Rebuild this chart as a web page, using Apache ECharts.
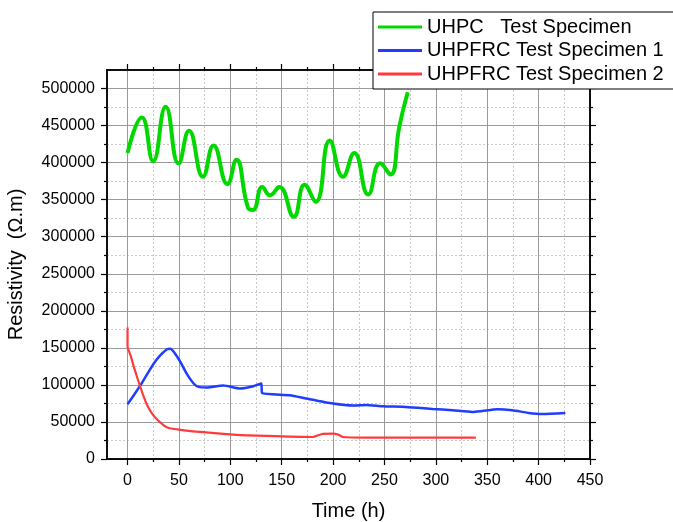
<!DOCTYPE html>
<html>
<head>
<meta charset="utf-8">
<script src="https://cdn.jsdelivr.net/npm/echarts@6/dist/echarts.min.js"></script>
<style>
html,body{margin:0;padding:0;background:#fff;}
#chart{width:673px;height:522px;}
</style>
</head>
<body>
<div id="chart"></div>
<script>
// ---- data ----
var seriesNames = ['UHPC   Test Specimen', 'UHPFRC Test Specimen 1', 'UHPFRC Test Specimen 2'];

var uhpcTime = [0, 13.9, 24.9, 37.1, 49.7, 59.8, 73.4, 83.6, 97.2, 105.9, 117, 122, 131.1, 138.6, 147.7, 161.8, 172.2, 183.1, 196.7, 209.6, 220.6, 234.2, 245.8, 255.8, 264.5, 272.6];
var uhpcRes  = [413000, 461000, 402000, 475500, 399000, 443000, 381000, 423000, 371000, 404000, 340000, 336000, 367000, 356000, 367000, 327000, 370000, 347000, 430000, 381000, 413000, 357000, 399000, 384000, 449000, 495000];

var frc1Time = [0, 6.1, 12.6, 19.1, 25.5, 32.0, 38.4, 41.7, 44.9, 51.4, 57.8, 64.3, 69.1, 77.2, 93.3, 109.5, 122.4, 130.2, 130.8, 158, 174.1, 200, 219.3, 232.3, 248.4, 271, 296.8, 316.2, 335.6, 345.3, 359.8, 374.3, 390.4, 403.3, 426];
var frc1Res  = [74000, 86100, 99600, 114500, 128900, 140100, 148200, 148700, 144600, 131100, 114500, 101900, 97300, 96500, 99200, 95100, 98200, 101900, 89200, 86100, 81600, 74900, 72200, 73000, 71200, 70300, 67600, 65800, 63500, 64900, 67200, 65800, 62200, 60800, 62200];

var frc2Time = [0, 0, 2.9, 6.1, 9.4, 12.6, 15.8, 19.1, 23.9, 28.8, 35.2, 40.0, 48.2, 70.7, 103, 135.4, 180.6, 185.4, 190.2, 199.9, 204.8, 209.6, 232.3, 338.9];
var frc2Res  = [177600, 151400, 140100, 124300, 110000, 96500, 83800, 72600, 61300, 53200, 45500, 41900, 40100, 36500, 33000, 31100, 29700, 32000, 33800, 34300, 33000, 29700, 28900, 28900];

var xMajorTicks = [0, 50, 100, 150, 200, 250, 300, 350, 400, 450];
var xMinorTicks = [25, 75, 125, 175, 225, 275, 325, 375, 425];
var yMajorTicks = [0, 50000, 100000, 150000, 200000, 250000, 300000, 350000, 400000, 450000, 500000];
var yMinorTicks = [25000, 75000, 125000, 175000, 225000, 275000, 325000, 375000, 425000, 475000];

function pairs(xs, ys) { return xs.map(function (x, i) { return [x, ys[i]]; }); }

var FONT = 'Liberation Sans, Arial, sans-serif';
var X_MIN = -20, X_MAX = 450, Y_MIN = 0, Y_MAX = 525000;
var axisLineStyle = { color: '#000', width: 1.5 };
var colors = ['#00d800', '#1f3cff', '#ff3a3a'];

function xAx(pos, ticks, len, opts) {
  var a = {
    type: 'value', min: X_MIN, max: X_MAX, position: pos,
    axisLine: { show: true, onZero: false, lineStyle: axisLineStyle },
    axisTick: { show: true, inside: false, length: len, customValues: ticks, lineStyle: { color: '#000', width: 1.2 } },
    axisLabel: { show: false },
    splitLine: { show: false },
    minorTick: { show: false }
  };
  return Object.assign(a, opts || {});
}
function yAx(pos, ticks, len, opts) {
  var a = {
    type: 'value', min: Y_MIN, max: Y_MAX, position: pos,
    axisLine: { show: true, onZero: false, lineStyle: axisLineStyle },
    axisTick: { show: true, inside: false, length: len, customValues: ticks, lineStyle: { color: '#000', width: 1.2 } },
    axisLabel: { show: false },
    splitLine: { show: false },
    minorTick: { show: false }
  };
  return Object.assign(a, opts || {});
}

var chart = echarts.init(document.getElementById('chart'), null, { renderer: 'canvas' });
chart.setOption({
  backgroundColor: '#fff',
  animation: false,
  grid: { left: 107, right: 83, top: 70, bottom: 63, containLabel: false, outerBoundsMode: 'none' },
  legend: {
    orient: 'vertical', left: 373, top: 12,
    data: [
      { name: seriesNames[0], icon: 'rect', itemStyle: { color: colors[0] } },
      { name: seriesNames[1], icon: 'rect', itemStyle: { color: colors[1] } },
      { name: seriesNames[2], icon: 'rect', itemStyle: { color: colors[2] } }
    ],
    backgroundColor: '#fff', borderColor: '#000', borderWidth: 1,
    padding: [5, 30, 5, 5],
    itemWidth: 44, itemHeight: 3, itemGap: 3.5,
    textStyle: { fontFamily: FONT, fontSize: 20, color: '#000', lineHeight: 20 }
  },
  xAxis: [
    xAx('bottom', xMajorTicks, 6, {
      name: 'Time (h)', nameLocation: 'middle', nameGap: 42,
      nameTextStyle: { fontFamily: FONT, fontSize: 20, color: '#000' },
      axisLabel: { show: true, customValues: xMajorTicks, margin: 14, fontFamily: FONT, fontSize: 16, color: '#000' },
      splitLine: { show: true, lineStyle: { color: '#9a9a9a', width: 1 } }
    }),
    xAx('bottom', xMinorTicks, 3, {
      splitLine: { show: true, lineStyle: { color: '#c8c8c8', width: 1, type: [2, 2] } }
    }),
    xAx('top', xMajorTicks, 6),
    xAx('top', xMinorTicks, 3)
  ],
  yAxis: [
    yAx('left', yMajorTicks, 6, {
      name: 'Resistivity  (\u03A9.m)', nameLocation: 'middle', nameGap: 81,
      nameTextStyle: { fontFamily: FONT, fontSize: 20, color: '#000' },
      axisLabel: { show: true, customValues: yMajorTicks, margin: 12, fontFamily: FONT, fontSize: 16, color: '#000',
        formatter: function (v) { return String(v); } },
      splitLine: { show: true, lineStyle: { color: '#9a9a9a', width: 1 } }
    }),
    yAx('left', yMinorTicks, 3, {
      splitLine: { show: true, lineStyle: { color: '#c8c8c8', width: 1, type: [2, 2] } }
    }),
    yAx('right', yMajorTicks, 6),
    yAx('right', yMinorTicks, 3)
  ],
  series: [
    {
      name: seriesNames[0], type: 'line', xAxisIndex: 0, yAxisIndex: 0,
      data: pairs(uhpcTime, uhpcRes), smooth: 0.5, symbol: 'none',
      lineStyle: { color: colors[0], width: 4 }, itemStyle: { color: colors[0] }, z: 4
    },
    {
      name: seriesNames[1], type: 'line', xAxisIndex: 0, yAxisIndex: 0,
      data: pairs(frc1Time, frc1Res), smooth: 0.2, symbol: 'none',
      lineStyle: { color: colors[1], width: 2.5 }, itemStyle: { color: colors[1] }, z: 3
    },
    {
      name: seriesNames[2], type: 'line', xAxisIndex: 0, yAxisIndex: 0,
      data: pairs(frc2Time, frc2Res), smooth: 0.2, symbol: 'none',
      lineStyle: { color: colors[2], width: 2.2 }, itemStyle: { color: colors[2] }, z: 3
    }
  ]
});
</script>
</body>
</html>
